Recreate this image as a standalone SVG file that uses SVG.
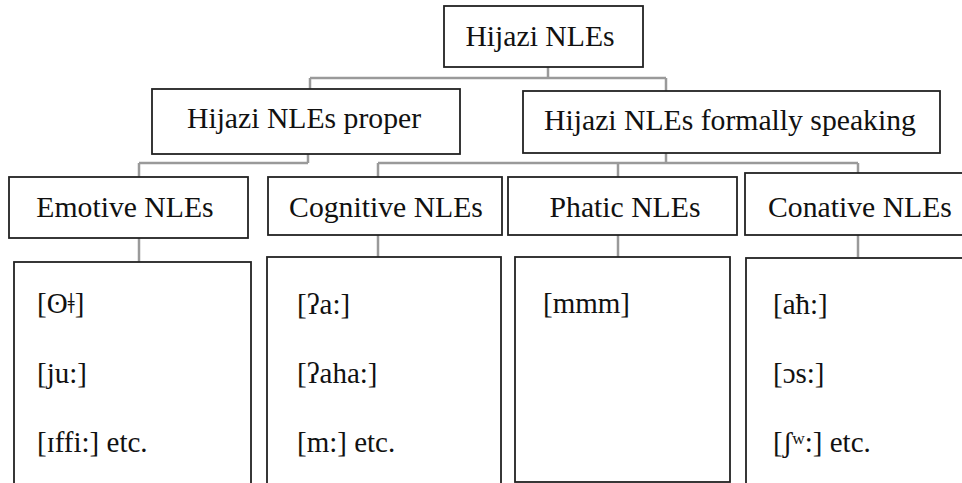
<svg xmlns="http://www.w3.org/2000/svg" width="962" height="483" viewBox="0 0 962 483">
<style>
.box{fill:#fff;stroke:#222;stroke-width:1.8}
.t{font-family:'Liberation Serif','Times New Roman','DejaVu Serif',serif;font-size:29px;fill:#111}
.h{font-size:29.7px}
.c{text-anchor:middle}
.con{fill:none;stroke:#9a9a9a;stroke-width:2.5}
</style>
<rect width="962" height="483" fill="#fff"/>
<g id="connectors" class="con">
<path d="M548 67V78M310 78H666M310 78V89M666 78V91"/>
<path d="M308 154V163M139 163H308M139 163V177"/>
<path d="M666 153V163M378 163H858M378 163V177M618 163V177M858 163V173"/>
<path d="M139 238V262M378 235V257M618 235V257M858 235V257"/>
</g>
<g id="root"><rect class="box" x="444" y="6" width="199" height="61"/><text class="t h c" x="540" y="46">Hijazi NLEs</text></g>
<g id="proper"><rect class="box" x="152" y="89" width="308" height="65"/><text class="t h c" x="304" y="128">Hijazi NLEs proper</text></g>
<g id="formally"><rect class="box" x="523" y="91" width="417" height="62"/><text class="t h c" x="730" y="130">Hijazi NLEs formally speaking</text></g>
<g id="emotive"><rect class="box" x="9" y="177" width="239" height="61"/><text class="t h c" x="125" y="217">Emotive NLEs</text></g>
<g id="cognitive"><rect class="box" x="268" y="177" width="234" height="58"/><text class="t h c" x="386" y="217">Cognitive NLEs</text></g>
<g id="phatic"><rect class="box" x="508" y="177" width="229" height="58"/><text class="t h c" x="625" y="217">Phatic NLEs</text></g>
<g id="conative"><rect class="box" x="745" y="173" width="230" height="62"/><text class="t h c" x="860" y="217">Conative NLEs</text></g>
<g id="emotive-examples"><rect class="box" x="14" y="262" width="237" height="240"/>
<text class="t" x="37" y="313">[ʘǂ]</text><text class="t" x="37" y="383">[ju:]</text><text class="t" x="37" y="452">[ɪffi:] etc.</text></g>
<g id="cognitive-examples"><rect class="box" x="267" y="257" width="234" height="245"/>
<text class="t" x="297" y="314">[ʔa:]</text><text class="t" x="297" y="383">[ʔaha:]</text><text class="t" x="297" y="452">[m:] etc.</text></g>
<g id="phatic-examples"><rect class="box" x="515" y="257" width="215" height="225"/>
<text class="t" x="543" y="313">[mmm]</text></g>
<g id="conative-examples"><rect class="box" x="746" y="258" width="230" height="245"/>
<text class="t" x="773" y="314">[aħ:]</text><text class="t" x="773" y="383">[ɔs:]</text><text class="t" x="773" y="452">[ʃʷ:] etc.</text></g>
</svg>
